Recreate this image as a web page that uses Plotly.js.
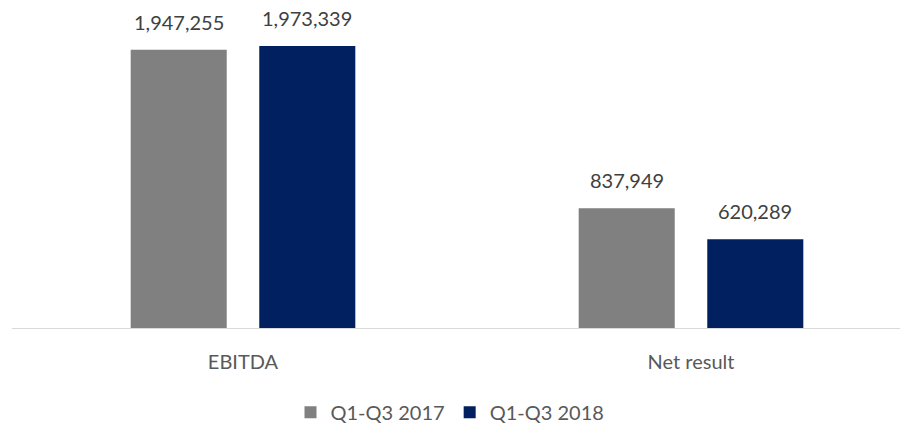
<!DOCTYPE html>
<html>
<head>
<meta charset="utf-8">
<script src="https://cdn.plot.ly/plotly-3.0.1.min.js"></script>
<style>
  html, body { margin: 0; padding: 0; background: #fff; }
  #chart { width: 900px; height: 425px; }
</style>
</head>
<body>
<div id="chart"></div>
<script>
// data
var categories = ['EBITDA', 'Net result'];
var series_names = ['Q1-Q3 2017', 'Q1-Q3 2018'];
var values_2017 = [1947255, 837949];
var values_2018 = [1973339, 620289];
var series_values = [values_2017, values_2018];
var series_colors = ['#808080', '#002060'];

var fontFamily = 'Lato, "Open Sans", sans-serif';

var data = [];
var annotations = [];
for (var i = 0; i < series_names.length; i++)
{
    data.push({
        type: 'bar',
        x: categories,
        y: series_values[i],
        name: series_names[i],
        marker: {color: series_colors[i]},
        hoverinfo: 'none'
    });
    for (var j = 0; j < categories.length; j++)
    {
        annotations.push({
            xref: 'x', yref: 'y',
            x: categories[j],
            y: series_values[i][j],
            text: series_values[i][j].toLocaleString('en-US'),
            showarrow: false,
            xanchor: 'center',
            yanchor: 'bottom',
            xshift: i === 0 ? -64 : 64,
            yshift: 14,
            font: {family: fontFamily, size: 20, color: '#404040'}
        });
    }
}

var layout = {
    width: 900,
    height: 425,
    margin: {l: 12, r: 0, t: 20, b: 97},
    paper_bgcolor: '#ffffff',
    plot_bgcolor: '#ffffff',
    barmode: 'group',
    bargap: 0.426,
    bargroupgap: 0.253,
    showlegend: true,
    legend: {
        orientation: 'h',
        x: 0.5,
        xanchor: 'center',
        xref: 'container',
        yref: 'container',
        y: 0.03,
        yanchor: 'middle',
        font: {family: fontFamily, size: 20, color: '#595959'},
        itemsizing: 'constant',
        traceorder: 'normal'
    },
    xaxis: {
        range: [-0.5156, 1.4665],
        showline: true,
        linecolor: '#d9d9d9',
        linewidth: 1,
        ticks: '',
        showgrid: false,
        zeroline: false,
        ticklabelstandoff: 16,
        tickfont: {family: fontFamily, size: 20, color: '#595959'}
    },
    yaxis: {
        range: [0, 2155000],
        visible: false,
        showgrid: false,
        zeroline: false
    },
    annotations: annotations
};

Plotly.newPlot('chart', data, layout, {displayModeBar: false, staticPlot: true});
</script>
</body>
</html>
